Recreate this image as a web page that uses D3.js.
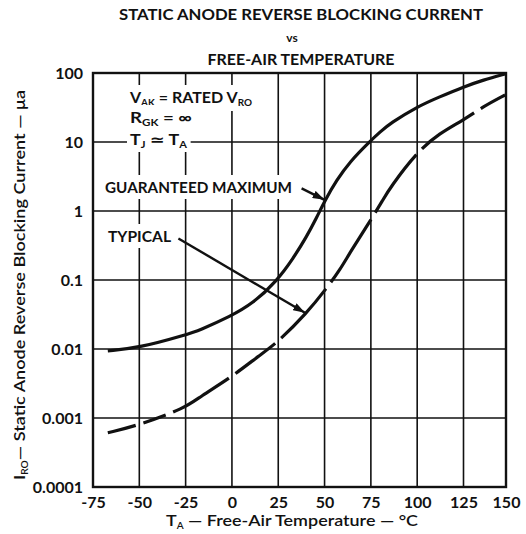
<!DOCTYPE html>
<html><head><meta charset="utf-8">
<script src="https://cdn.jsdelivr.net/npm/d3@7"></script>
<style>
body{margin:0;background:#fff}
svg{display:block}
text{font-family:Lato,"DejaVu Sans",sans-serif;font-weight:700;fill:#111}
</style>
</head><body>
<svg id="c" width="526" height="534"></svg>
<script>
// ---- data ----
const xTicks = [-75, -50, -25, 0, 25, 50, 75, 100, 125, 150];
const yTicks = [0.0001, 0.001, 0.01, 0.1, 1, 10, 100];
const yTickLabels = ["0.0001", "0.001", "0.01", "0.1", "1", "10", "100"];

const maxTemps  = [-67, -50, -25, -17.3, -1.1, 11.5, 24.1, 33.1, 40.3, 45.7, 50.2, 56.5, 63.7, 74.1, 80, 85.5, 100, 112, 125, 136.5, 150];
const maxValues = [0.0094, 0.0104, 0.016, 0.0188, 0.0294, 0.046, 0.096, 0.206, 0.424, 0.8, 1.42, 2.8, 5.2, 10, 14, 18.7, 32.5, 45, 63, 79, 98];

const typTemps  = [-67, -50, -25, -17.3, -1.1, 15.1, 24.1, 40.3, 51.1, 58.3, 64, 75, 81.5, 85.5, 100, 112, 125, 136.5, 149.5];
const typValues = [0.00061, 0.00079, 0.0014, 0.00204, 0.00376, 0.0082, 0.0121, 0.0329, 0.0759, 0.14, 0.257, 0.74, 1.45, 2.2, 7.2, 13.4, 20.8, 32.5, 48];

// temperatures where the dashed (typical) curve has its breaks
const typGapTemps = [-50, -34, 0, 25, 52, 76, 101, 133];

// arrow annotations in data units: [tailT, tailValue, tipT, tipValue]
const maxArrow = [37.6, 2.13, 50, 1.45];
const typArrow = [-28.9, 0.40, 39.4, 0.0335];

// ---- chart ----
const svg = d3.select("#c");
const x = d3.scaleLinear().domain([-75, 125, 150]).range([93, 463.5, 506]);
const y = d3.scaleLog().domain([0.0001, 100]).range([487, 73]);
const L = 93, R = 506, T = 73, B = 487;

svg.append("defs").append("marker")
  .attr("id", "ah").attr("viewBox", "0 0 12 8").attr("refX", 12).attr("refY", 4)
  .attr("markerWidth", 12).attr("markerHeight", 8).attr("markerUnits", "userSpaceOnUse")
  .attr("orient", "auto")
  .append("path").attr("d", "M0,0 L12,4 L0,8 Z").attr("fill", "#111");

// grid
const grid = svg.append("g");
grid.selectAll("line.v").data(xTicks).join("line")
  .attr("x1", d => x(d)).attr("x2", d => x(d)).attr("y1", T).attr("y2", B)
  .attr("stroke", "#111").attr("stroke-width", 1.6);
grid.selectAll("line.h").data(yTicks).join("line")
  .attr("x1", L).attr("x2", R).attr("y1", d => y(d)).attr("y2", d => y(d))
  .attr("stroke", "#111").attr("stroke-width", 1.6);
svg.append("rect").attr("x", L).attr("y", T).attr("width", R - L).attr("height", B - T)
  .attr("fill", "none").attr("stroke", "#111").attr("stroke-width", 2.4);

// axes labels
const xAxis = svg.append("g").attr("transform", `translate(0,${B})`)
  .call(d3.axisBottom(x).tickValues(xTicks).tickSize(0).tickPadding(10).tickFormat(d3.format("d")));
const yAxis = svg.append("g").attr("transform", `translate(${L},0)`)
  .call(d3.axisLeft(y).tickValues(yTicks).tickSize(0).tickPadding(10).tickFormat((d, i) => yTickLabels[i]));
[xAxis, yAxis].forEach(a => {
  a.select(".domain").remove();
  a.selectAll("text").style("font-family", "Lato,'DejaVu Sans',sans-serif")
    .style("font-weight", 700).style("font-size", "16px").attr("fill", "#111");
});
xAxis.selectAll("text").text(d => d < 0 ? "-" + Math.abs(d) : d);

// titles
const title = svg.append("g").attr("text-anchor", "middle");
title.append("text").attr("x", 301).attr("y", 20).style("font-size", "16px")
  .attr("textLength", 364).attr("lengthAdjust", "spacingAndGlyphs")
  .text("STATIC ANODE REVERSE BLOCKING CURRENT");
title.append("text").attr("x", 292).attr("y", 42).style("font-size", "12px").text("vs");
title.append("text").attr("x", 301).attr("y", 65).style("font-size", "16px")
  .attr("textLength", 187).attr("lengthAdjust", "spacingAndGlyphs")
  .text("FREE-AIR TEMPERATURE");

// x axis title
const xt = svg.append("text").attr("x", 292).attr("y", 526).attr("text-anchor", "middle")
  .style("font-size", "16px").style("font-weight", 600)
  .attr("textLength", 252).attr("lengthAdjust", "spacingAndGlyphs");
xt.append("tspan").text("T");
xt.append("tspan").attr("dy", 3).style("font-size", "9px").text("A");
xt.append("tspan").attr("dy", -3).text(" \u2014 Free-Air Temperature \u2014 \u00B0C");

// y axis title
const yt = svg.append("text").attr("transform", "translate(25,285) rotate(-90)")
  .attr("text-anchor", "middle").style("font-size", "16px").style("font-weight", 600)
  .attr("textLength", 390).attr("lengthAdjust", "spacingAndGlyphs");
yt.append("tspan").text("I");
yt.append("tspan").attr("dy", 3).style("font-size", "9px").text("RO");
yt.append("tspan").attr("dy", -3).text("\u2014 Static Anode Reverse Blocking Current \u2014 \u03BCa");

// annotation text with white backing boxes
const ann = svg.append("g");
function label(xp, yp, parts, size, padX, padY, len) {
  const g = ann.append("g");
  const t = g.append("text").attr("x", xp).attr("y", yp).style("font-size", size + "px");
  parts.forEach(p => {
    if (p.sub) t.append("tspan").attr("dy", 3).style("font-size", (size * 0.62) + "px").text(p.sub);
    else t.append("tspan").attr("dy", p.back ? -3 : 0).text(p.t);
  });
  if (len) t.attr("textLength", len).attr("lengthAdjust", "spacingAndGlyphs");
  const b = t.node().getBBox();
  g.insert("rect", "text").attr("x", b.x - padX).attr("y", b.y - padY)
    .attr("width", b.width + 2 * padX).attr("height", b.height + 2 * padY).attr("fill", "#fff");
}
label(130, 103, [{t: "V"}, {sub: "AK"}, {t: " = RATED V", back: true}, {sub: "RO"}], 15, 4, 3, 122);
label(130, 123, [{t: "R"}, {sub: "GK"}, {t: " = \u221E", back: true}], 15, 4, 3, 62);
label(130, 145, [{t: "T"}, {sub: "J"}, {t: " \u2243  T", back: true}, {sub: "A"}], 15, 3, 2, 57);
label(105, 193, [{t: "GUARANTEED MAXIMUM"}], 15, 3, 3, 187);
label(108, 242, [{t: "TYPICAL"}], 15, 3, 3, 63);

// curves
const line = d3.line().x(d => x(d[0])).y(d => y(d[1])).curve(d3.curveBasis);
svg.append("path").datum(maxTemps.map((t, i) => [t, maxValues[i]]))
  .attr("d", line).attr("fill", "none").attr("stroke", "#111").attr("stroke-width", 3.2);
const typPath = svg.append("path").datum(typTemps.map((t, i) => [t, typValues[i]]))
  .attr("d", line).attr("fill", "none").attr("stroke", "#111").attr("stroke-width", 3.2);

// build dash pattern with breaks at given temperatures
(function () {
  const node = typPath.node();
  const total = node.getTotalLength();
  const gap = 8;
  // map temps to path lengths
  const targets = typGapTemps.map(t => x(t));
  const lens = [];
  let ti = 0;
  for (let s = 0; s <= total && ti < targets.length; s += 0.5) {
    if (node.getPointAtLength(s).x >= targets[ti]) { lens.push(s); ti++; }
  }
  const arr = [];
  let pos = 0;
  lens.forEach(l => {
    const start = Math.max(pos, l - gap / 2);
    arr.push(start - pos, gap);
    pos = start + gap;
  });
  arr.push(total - pos + 10, 0);
  typPath.attr("stroke-dasharray", arr.join(","));
})();

// arrows
[maxArrow, typArrow].forEach(a => {
  svg.append("line").attr("x1", x(a[0])).attr("y1", y(a[1])).attr("x2", x(a[2])).attr("y2", y(a[3]))
    .attr("stroke", "#111").attr("stroke-width", 2.4).attr("marker-end", "url(#ah)");
});
</script>
</body></html>
